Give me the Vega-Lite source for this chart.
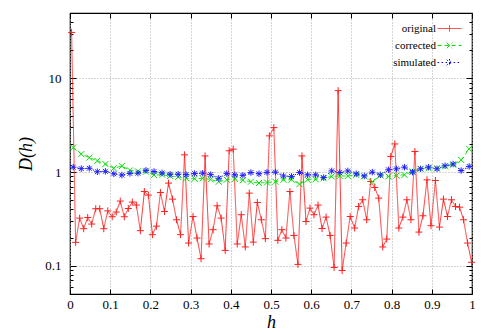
{
  "$schema": "https://vega.github.io/schema/vega-lite/v6.json",
  "width": 402,
  "height": 281,
  "autosize": {"type": "none"},
  "padding": {"left": 70, "top": 13, "right": 13, "bottom": 40},
  "config": {
    "view": {"stroke": "black", "strokeWidth": 1.2},
    "axis": {
      "labelFont": "Liberation Serif", "labelFontSize": 13, "labelColor": "#000000",
      "titleFont": "Liberation Serif", "titleFontSize": 18, "titleFontStyle": "italic", "titleFontWeight": "normal", "titleColor": "#000000",
      "domain": false, "tickColor": "black", "tickWidth": 1,
      "gridColor": "#a8a8a8", "gridDash": [1, 2], "gridWidth": 1
    },
    "legend": {
      "orient": "top-right", "offset": 8, "padding": 0,
      "labelFont": "Liberation Serif", "labelFontSize": 11, "labelColor": "black",
      "labelAlign": "right", "labelOffset": -21,
      "symbolSize": 196, "symbolStrokeWidth": 1, "rowPadding": 4
    }
  },
  "data": {"values": [
    {"series":"original","h":0.004,"D":31},
    {"series":"original","h":0.014,"D":0.178},
    {"series":"original","h":0.024,"D":0.323},
    {"series":"original","h":0.034,"D":0.249},
    {"series":"original","h":0.044,"D":0.328},
    {"series":"original","h":0.054,"D":0.279},
    {"series":"original","h":0.064,"D":0.407},
    {"series":"original","h":0.074,"D":0.407},
    {"series":"original","h":0.084,"D":0.249},
    {"series":"original","h":0.094,"D":0.386},
    {"series":"original","h":0.105,"D":0.334},
    {"series":"original","h":0.115,"D":0.375},
    {"series":"original","h":0.125,"D":0.491},
    {"series":"original","h":0.135,"D":0.334},
    {"series":"original","h":0.145,"D":0.409},
    {"series":"original","h":0.155,"D":0.479},
    {"series":"original","h":0.165,"D":0.445},
    {"series":"original","h":0.175,"D":0.237},
    {"series":"original","h":0.185,"D":0.621},
    {"series":"original","h":0.195,"D":0.568},
    {"series":"original","h":0.205,"D":0.215},
    {"series":"original","h":0.215,"D":0.265},
    {"series":"original","h":0.225,"D":0.606},
    {"series":"original","h":0.235,"D":0.38},
    {"series":"original","h":0.245,"D":0.763},
    {"series":"original","h":0.255,"D":0.515},
    {"series":"original","h":0.265,"D":0.31},
    {"series":"original","h":0.275,"D":0.215},
    {"series":"original","h":0.285,"D":1.53},
    {"series":"original","h":0.295,"D":0.175},
    {"series":"original","h":0.306,"D":0.336},
    {"series":"original","h":0.316,"D":0.198},
    {"series":"original","h":0.326,"D":0.119},
    {"series":"original","h":0.336,"D":1.49},
    {"series":"original","h":0.346,"D":0.171},
    {"series":"original","h":0.356,"D":0.243},
    {"series":"original","h":0.366,"D":0.437},
    {"series":"original","h":0.376,"D":0.323},
    {"series":"original","h":0.386,"D":0.146},
    {"series":"original","h":0.396,"D":1.69},
    {"series":"original","h":0.406,"D":1.76},
    {"series":"original","h":0.416,"D":0.171},
    {"series":"original","h":0.426,"D":0.351},
    {"series":"original","h":0.436,"D":0.159},
    {"series":"original","h":0.446,"D":0.597},
    {"series":"original","h":0.456,"D":0.179},
    {"series":"original","h":0.466,"D":0.474},
    {"series":"original","h":0.476,"D":0.31},
    {"series":"original","h":0.486,"D":0.195},
    {"series":"original","h":0.496,"D":2.44},
    {"series":"original","h":0.507,"D":2.99},
    {"series":"original","h":0.517,"D":0.187},
    {"series":"original","h":0.527,"D":0.243},
    {"series":"original","h":0.537,"D":0.198},
    {"series":"original","h":0.547,"D":0.621},
    {"series":"original","h":0.557,"D":0.211},
    {"series":"original","h":0.567,"D":0.1035},
    {"series":"original","h":0.577,"D":1.49},
    {"series":"original","h":0.587,"D":0.297},
    {"series":"original","h":0.597,"D":0.413},
    {"series":"original","h":0.607,"D":0.351},
    {"series":"original","h":0.617,"D":0.445},
    {"series":"original","h":0.627,"D":0.25},
    {"series":"original","h":0.637,"D":0.331},
    {"series":"original","h":0.647,"D":0.211},
    {"series":"original","h":0.657,"D":0.096},
    {"series":"original","h":0.667,"D":7.41},
    {"series":"original","h":0.677,"D":0.089},
    {"series":"original","h":0.687,"D":0.175},
    {"series":"original","h":0.697,"D":0.336},
    {"series":"original","h":0.708,"D":0.253},
    {"series":"original","h":0.718,"D":0.43},
    {"series":"original","h":0.728,"D":0.507},
    {"series":"original","h":0.738,"D":0.31},
    {"series":"original","h":0.748,"D":0.794},
    {"series":"original","h":0.758,"D":0.685},
    {"series":"original","h":0.768,"D":0.528},
    {"series":"original","h":0.778,"D":0.159},
    {"series":"original","h":0.788,"D":0.193},
    {"series":"original","h":0.798,"D":1.47},
    {"series":"original","h":0.808,"D":2.0},
    {"series":"original","h":0.818,"D":0.253},
    {"series":"original","h":0.828,"D":0.331},
    {"series":"original","h":0.838,"D":0.507},
    {"series":"original","h":0.848,"D":0.31},
    {"series":"original","h":0.858,"D":1.66},
    {"series":"original","h":0.868,"D":0.229},
    {"series":"original","h":0.878,"D":0.342},
    {"series":"original","h":0.888,"D":0.828},
    {"series":"original","h":0.898,"D":0.268},
    {"series":"original","h":0.909,"D":0.814},
    {"series":"original","h":0.919,"D":0.259},
    {"series":"original","h":0.929,"D":0.515},
    {"series":"original","h":0.939,"D":0.336},
    {"series":"original","h":0.949,"D":0.507},
    {"series":"original","h":0.959,"D":0.43},
    {"series":"original","h":0.969,"D":0.423},
    {"series":"original","h":0.979,"D":0.31},
    {"series":"original","h":0.989,"D":0.175},
    {"series":"original","h":0.999,"D":0.109},
    {"series":"corrected","h":0.008,"D":1.83},
    {"series":"corrected","h":0.028,"D":1.56},
    {"series":"corrected","h":0.048,"D":1.43},
    {"series":"corrected","h":0.068,"D":1.32},
    {"series":"corrected","h":0.088,"D":1.22},
    {"series":"corrected","h":0.109,"D":1.10},
    {"series":"corrected","h":0.129,"D":1.16},
    {"series":"corrected","h":0.149,"D":1.045},
    {"series":"corrected","h":0.169,"D":1.02},
    {"series":"corrected","h":0.189,"D":1.01},
    {"series":"corrected","h":0.209,"D":0.93},
    {"series":"corrected","h":0.229,"D":0.94},
    {"series":"corrected","h":0.249,"D":0.91},
    {"series":"corrected","h":0.269,"D":0.89},
    {"series":"corrected","h":0.289,"D":0.86},
    {"series":"corrected","h":0.310,"D":0.85},
    {"series":"corrected","h":0.330,"D":0.86},
    {"series":"corrected","h":0.350,"D":0.835},
    {"series":"corrected","h":0.370,"D":0.79},
    {"series":"corrected","h":0.390,"D":0.83},
    {"series":"corrected","h":0.410,"D":0.845},
    {"series":"corrected","h":0.430,"D":0.82},
    {"series":"corrected","h":0.450,"D":0.79},
    {"series":"corrected","h":0.470,"D":0.765},
    {"series":"corrected","h":0.490,"D":0.775},
    {"series":"corrected","h":0.511,"D":0.79},
    {"series":"corrected","h":0.531,"D":0.83},
    {"series":"corrected","h":0.551,"D":0.83},
    {"series":"corrected","h":0.571,"D":0.745},
    {"series":"corrected","h":0.591,"D":0.83},
    {"series":"corrected","h":0.611,"D":0.84},
    {"series":"corrected","h":0.631,"D":0.86},
    {"series":"corrected","h":0.651,"D":0.90},
    {"series":"corrected","h":0.671,"D":0.91},
    {"series":"corrected","h":0.691,"D":0.91},
    {"series":"corrected","h":0.712,"D":0.935},
    {"series":"corrected","h":0.732,"D":0.90},
    {"series":"corrected","h":0.752,"D":0.79},
    {"series":"corrected","h":0.772,"D":0.92},
    {"series":"corrected","h":0.792,"D":0.90},
    {"series":"corrected","h":0.812,"D":0.92},
    {"series":"corrected","h":0.832,"D":0.935},
    {"series":"corrected","h":0.852,"D":1.015},
    {"series":"corrected","h":0.872,"D":1.085},
    {"series":"corrected","h":0.892,"D":1.10},
    {"series":"corrected","h":0.913,"D":1.10},
    {"series":"corrected","h":0.933,"D":1.15},
    {"series":"corrected","h":0.953,"D":1.20},
    {"series":"corrected","h":0.973,"D":1.35},
    {"series":"corrected","h":0.993,"D":1.77},
    {"series":"simulated","h":0.008,"D":1.13},
    {"series":"simulated","h":0.028,"D":1.09},
    {"series":"simulated","h":0.048,"D":1.10},
    {"series":"simulated","h":0.068,"D":1.01},
    {"series":"simulated","h":0.088,"D":1.02},
    {"series":"simulated","h":0.109,"D":0.96},
    {"series":"simulated","h":0.129,"D":0.93},
    {"series":"simulated","h":0.149,"D":0.97},
    {"series":"simulated","h":0.169,"D":0.975},
    {"series":"simulated","h":0.189,"D":1.045},
    {"series":"simulated","h":0.209,"D":1.015},
    {"series":"simulated","h":0.229,"D":0.98},
    {"series":"simulated","h":0.249,"D":0.95},
    {"series":"simulated","h":0.269,"D":0.95},
    {"series":"simulated","h":0.289,"D":0.94},
    {"series":"simulated","h":0.310,"D":0.965},
    {"series":"simulated","h":0.330,"D":0.975},
    {"series":"simulated","h":0.350,"D":0.94},
    {"series":"simulated","h":0.370,"D":0.86},
    {"series":"simulated","h":0.390,"D":0.965},
    {"series":"simulated","h":0.410,"D":0.935},
    {"series":"simulated","h":0.430,"D":0.925},
    {"series":"simulated","h":0.450,"D":0.99},
    {"series":"simulated","h":0.470,"D":0.96},
    {"series":"simulated","h":0.490,"D":0.995},
    {"series":"simulated","h":0.511,"D":1.0},
    {"series":"simulated","h":0.531,"D":0.91},
    {"series":"simulated","h":0.551,"D":0.90},
    {"series":"simulated","h":0.571,"D":0.99},
    {"series":"simulated","h":0.591,"D":0.935},
    {"series":"simulated","h":0.611,"D":0.935},
    {"series":"simulated","h":0.631,"D":0.875},
    {"series":"simulated","h":0.651,"D":1.03},
    {"series":"simulated","h":0.671,"D":0.99},
    {"series":"simulated","h":0.691,"D":1.03},
    {"series":"simulated","h":0.712,"D":0.96},
    {"series":"simulated","h":0.732,"D":0.91},
    {"series":"simulated","h":0.752,"D":1.0},
    {"series":"simulated","h":0.772,"D":0.935},
    {"series":"simulated","h":0.792,"D":1.06},
    {"series":"simulated","h":0.812,"D":1.085},
    {"series":"simulated","h":0.832,"D":1.13},
    {"series":"simulated","h":0.852,"D":1.0},
    {"series":"simulated","h":0.872,"D":1.085},
    {"series":"simulated","h":0.892,"D":1.13},
    {"series":"simulated","h":0.913,"D":1.085},
    {"series":"simulated","h":0.933,"D":1.17},
    {"series":"simulated","h":0.953,"D":1.22},
    {"series":"simulated","h":0.973,"D":1.04},
    {"series":"simulated","h":0.993,"D":1.15}
  ]},
  "resolve": {"axis": {"x": "independent", "y": "independent"}},
  "layer": [
    {
      "mark": {"type": "line", "strokeWidth": 0.9},
      "encoding": {
        "x": {"field": "h", "type": "quantitative", "scale": {"domain": [0, 1], "nice": false, "zero": false},
              "axis": {"orient": "bottom", "title": "h", "values": [0, 0.1, 0.2, 0.3, 0.4, 0.5, 0.6, 0.7, 0.8, 0.9, 1], "format": "~g",
                       "grid": true, "ticks": true, "tickSize": -5, "labelPadding": 9, "titlePadding": 2, "labelFlush": false}},
        "y": {"field": "D", "type": "quantitative", "scale": {"type": "log", "domain": [0.05, 50], "nice": false},
              "axis": {"orient": "left", "title": "D(h)", "values": [0.1, 1, 10], "format": "~g",
                       "grid": true, "ticks": true, "tickSize": -6, "labelPadding": 15, "titlePadding": 9}},
        "color": {"field": "series", "type": "nominal",
                  "scale": {"domain": ["original", "corrected", "simulated"], "range": ["#ff2020", "#00e000", "#0000ff"]},
                  "legend": {"title": null,
                             "encode": {"symbols": {"update": {"shape": {"signal": "datum.value == 'original' ? 'M-1.7,0L1.7,0M0,-0.45L0,0.45' : datum.value == 'corrected' ? 'M-1.7,0L1.7,0M-0.4,-0.4L0.4,0.4M-0.4,0.4L0.4,-0.4' : 'M-1.7,0L1.7,0M-0.4,-0.4L0.4,0.4M-0.4,0.4L0.4,-0.4M0,-0.5L0,0.5'"}}}}}},
        "strokeDash": {"field": "series", "type": "nominal",
                       "scale": {"domain": ["original", "corrected", "simulated"], "range": [[1, 0], [4, 3], [1.5, 2.5]]},
                       "legend": {"title": null}}
      }
    },
    {
      "transform": [{"filter": "datum.series == 'original'"}],
      "mark": {"type": "point", "shape": "M-1,0L1,0M0,-1L0,1", "size": 49, "filled": false, "color": "#ff2020", "strokeWidth": 1, "opacity": 1},
      "encoding": {
        "x": {"field": "h", "type": "quantitative",
              "axis": {"orient": "top", "title": null, "values": [0, 0.1, 0.2, 0.3, 0.4, 0.5, 0.6, 0.7, 0.8, 0.9, 1], "labels": false, "grid": false, "ticks": true, "tickSize": -5}},
        "y": {"field": "D", "type": "quantitative",
              "axis": {"orient": "right", "title": null, "values": [0.1, 1, 10], "labels": false, "grid": false, "ticks": true, "tickSize": -6}}
      }
    },
    {
      "transform": [{"filter": "datum.series == 'corrected'"}],
      "mark": {"type": "point", "shape": "M-1,-1L1,1M-1,1L1,-1", "size": 36, "filled": false, "color": "#00e000", "strokeWidth": 1, "opacity": 1},
      "encoding": {
        "x": {"field": "h", "type": "quantitative", "axis": null},
        "y": {"field": "D", "type": "quantitative",
              "axis": {"orient": "left", "title": null, "values": [0.06, 0.07, 0.08, 0.09, 0.2, 0.3, 0.4, 0.5, 0.6, 0.7, 0.8, 0.9, 2, 3, 4, 5, 6, 7, 8, 9, 20, 30, 40, 50], "labels": false, "grid": false, "ticks": true, "tickSize": -3}}
      }
    },
    {
      "transform": [{"filter": "datum.series == 'simulated'"}],
      "mark": {"type": "point", "shape": "M-1,0L1,0M0,-1L0,1M-0.75,-0.75L0.75,0.75M-0.75,0.75L0.75,-0.75", "size": 42, "filled": false, "color": "#2020ff", "strokeWidth": 1, "opacity": 1},
      "encoding": {
        "x": {"field": "h", "type": "quantitative", "axis": null},
        "y": {"field": "D", "type": "quantitative",
              "axis": {"orient": "right", "title": null, "values": [0.06, 0.07, 0.08, 0.09, 0.2, 0.3, 0.4, 0.5, 0.6, 0.7, 0.8, 0.9, 2, 3, 4, 5, 6, 7, 8, 9, 20, 30, 40, 50], "labels": false, "grid": false, "ticks": true, "tickSize": -3}}
      }
    }
  ]
}
